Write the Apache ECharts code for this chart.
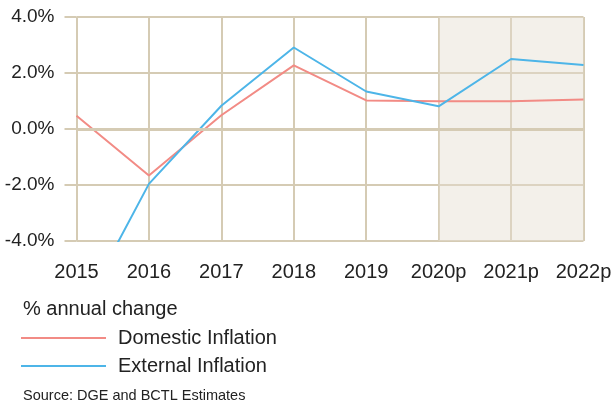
<!DOCTYPE html>
<html><head><meta charset="utf-8">
<script src="https://cdn.jsdelivr.net/npm/echarts@6/dist/echarts.min.js"></script>
<style>html,body{margin:0;padding:0;background:#fff}#c{width:615px;height:403px}</style>
</head><body><div id="c"></div>
<script>
const categories = ['2015','2016','2017','2018','2019','2020p','2021p','2022p'];
const domestic = [0.47, -1.66, 0.49, 2.27, 1.02, 0.99, 0.99, 1.05];
const external = [-6.83, -1.96, 0.83, 2.91, 1.34, 0.81, 2.50, 2.29];
const projectionStart = '2020p';
const projectionEnd = '2022p';

const gridCol = '#d5cbb4';
const font = '"Liberation Sans", Arial, sans-serif';
const chart = echarts.init(document.getElementById('c'));
chart.setOption({
  animation: false,
  textStyle: {fontFamily: font},
  grid: {left: 76.5, right: 31.5, top: 17, bottom: 162},
  xAxis: {
    type: 'category', data: categories, boundaryGap: false,
    axisLine: {show: false},
    axisTick: {show: true, length: 11, lineStyle: {color: gridCol, width: 2}},
    splitLine: {show: true, lineStyle: {color: gridCol, width: 2}},
    axisLabel: {color: '#222', fontSize: 20, lineHeight: 20, margin: 21, fontFamily: font}
  },
  yAxis: {
    type: 'value', min: -4, max: 4, interval: 2,
    axisLine: {show: false},
    axisTick: {show: true, length: 12, lineStyle: {color: gridCol, width: 2}},
    splitLine: {show: true, lineStyle: {color: gridCol, width: 2}},
    axisLabel: {color: '#222', fontSize: 19, margin: 22, fontFamily: font,
      formatter: v => v.toFixed(1) + '%'}
  },
  legend: {
    orient: 'vertical', left: 16, top: 323,
    itemWidth: 85, itemHeight: 2, itemGap: 8,
    icon: 'rect',
    textStyle: {fontSize: 20, lineHeight: 20, color: '#222', fontFamily: font, padding: [0, 0, 0, 7]},
    data: ['Domestic Inflation', 'External Inflation']
  },
  graphic: [
    {type: 'text', left: 23, top: 299, style: {text: '% annual change', fill: '#222', font: '20px ' + font}},
    {type: 'text', left: 23, top: 388, style: {text: 'Source: DGE and BCTL Estimates', fill: '#222', font: '14.5px ' + font}}
  ],
  series: [
    {
      name: 'Domestic Inflation', type: 'line', data: domestic, clip: true,
      showSymbol: false, symbol: 'none', lineStyle: {color: '#f28b85', width: 2}, itemStyle: {color: '#f28b85'},
      markArea: {silent: true, itemStyle: {color: 'rgba(228,222,208,0.45)'}, data: [[{xAxis: projectionStart}, {xAxis: projectionEnd}]]},
      markLine: {silent: true, symbol: 'none', label: {show: false}, lineStyle: {color: gridCol, width: 3, type: 'solid'}, data: [{yAxis: 0}]},
      z: 3
    },
    {
      name: 'External Inflation', type: 'line', data: external, clip: true,
      showSymbol: false, symbol: 'none', lineStyle: {color: '#4db5e8', width: 2}, itemStyle: {color: '#4db5e8'},
      z: 4
    }
  ]
});
</script></body></html>
